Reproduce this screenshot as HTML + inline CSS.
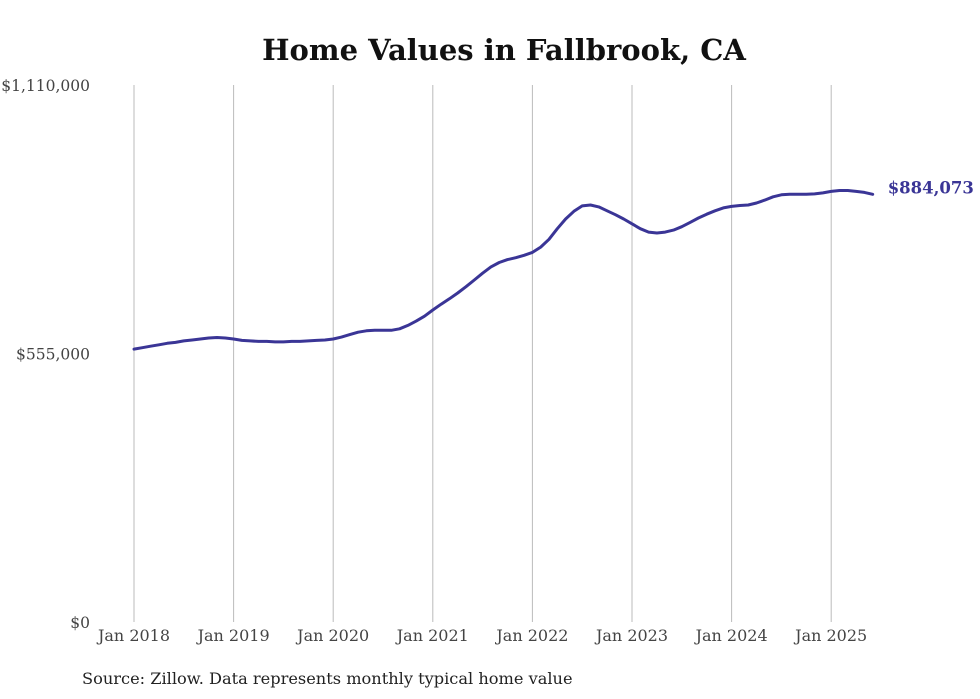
<!DOCTYPE html>
<html><head><meta charset="utf-8"><style>
body{margin:0;background:#fff;}
svg{display:block;font-family:"DejaVu Serif","Liberation Serif",serif;}
</style></head><body>
<svg id="chart" width="980" height="699">
<text x="504" y="60" text-anchor="middle" font-size="29" font-weight="bold" fill="#111">Home Values in Fallbrook, CA</text>
<g id="grid"></g><g id="yaxis"></g><g id="xaxis"></g><g id="series"></g>
<text x="82" y="684" font-size="16.2" fill="#222">Source: Zillow. Data represents monthly typical home value</text>
</svg>
<script>
const yearLabels=["Jan 2018","Jan 2019","Jan 2020","Jan 2021","Jan 2022","Jan 2023","Jan 2024","Jan 2025"];
const yTicks=[0,555000,1110000];
const yTickLabels=["$0","$555,000","$1,110,000"];
const values=[
564,567,570,573,576,578,581,583,585,587,588,587,
585,582,581,580,580,579,579,580,580,581,582,583,
585,589,594,599,602,603,603,603,606,613,622,632,
645,657,668,680,693,707,721,734,743,749,753,758,
764,775,791,813,833,849,860,862,858,850,842,833,
823,813,806,804,806,810,817,826,835,843,850,856,
859,861,862,866,872,879,883,884,884,884,885,887,
890,892,892,890,888,884.073].map(v=>v*1000);
const lastLabel="$884,073";
const NS="http://www.w3.org/2000/svg";
const x=m=>134+m*(99.6/12);
const y=v=>622-v/1110000*537;
function mk(t,a,p){const e=document.createElementNS(NS,t);for(const k in a)e.setAttribute(k,a[k]);p.appendChild(e);return e;}
const grid=document.getElementById('grid'),xa=document.getElementById('xaxis'),ya=document.getElementById('yaxis'),se=document.getElementById('series');
yearLabels.forEach((l,i)=>{
 const g=mk('line',{x1:x(i*12),x2:x(i*12),y1:85,y2:622,stroke:'#bbb','stroke-width':1},grid);
 
 
 const t=mk('text',{x:x(i*12),y:641,'text-anchor':'middle','font-size':16,fill:'#444'},xa);
 t.textContent=l;
 
 
});
yTicks.forEach((v,i)=>{
 const t=mk('text',{x:90,y:y(v)+6,'text-anchor':'end','font-size':15.5,fill:'#444'},ya);
 t.textContent=yTickLabels[i];
 
 
});
let d='';values.forEach((v,i)=>{d+=(i?'L':'M')+x(i).toFixed(1)+','+y(v).toFixed(1);});
const p=mk('path',{d:d,fill:'none',stroke:'#3a3596','stroke-width':3,'stroke-linejoin':'round','stroke-linecap':'round'},se);


const n=values.length-1;
const lt=mk('text',{x:x(n)+15,y:y(values[n])-1,'font-size':16.5,'font-weight':'bold',fill:'#3a3596'},se);
lt.textContent=lastLabel;


</script>
</body></html>
